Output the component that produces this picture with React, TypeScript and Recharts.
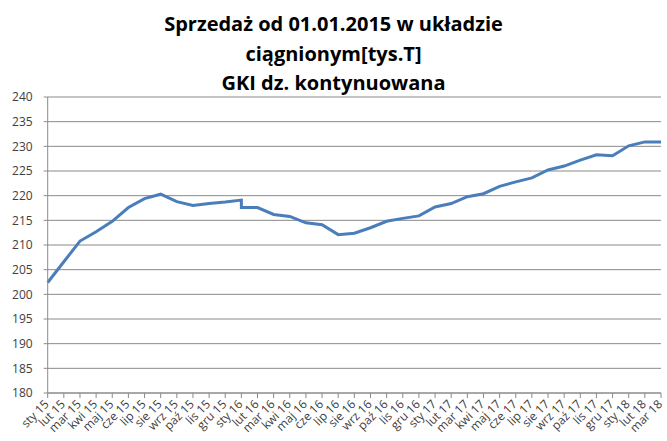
import React from 'react';
import { LineChart, Line, XAxis, YAxis, CartesianGrid } from 'recharts';

const months = [
  'sty 15', 'lut 15', 'mar 15', 'kwi 15', 'maj 15', 'cze 15', 'lip 15', 'sie 15', 'wrz 15', 'paź 15', 'lis 15', 'gru 15',
  'sty 16', 'lut 16', 'mar 16', 'kwi 16', 'maj 16', 'cze 16', 'lip 16', 'sie 16', 'wrz 16', 'paź 16', 'lis 16', 'gru 16',
  'sty 17', 'lut 17', 'mar 17', 'kwi 17', 'maj 17', 'cze 17', 'lip 17', 'sie 17', 'wrz 17', 'paź 17', 'lis 17', 'gru 17',
  'sty 18', 'lut 18', 'mar 18',
];

// Month of each plotted point (sty 16 carries two readings: the step down)
const pointMonths = [
  'sty 15', 'lut 15', 'mar 15', 'kwi 15', 'maj 15', 'cze 15', 'lip 15', 'sie 15', 'wrz 15', 'paź 15', 'lis 15', 'gru 15',
  'sty 16', 'sty 16', 'lut 16', 'mar 16', 'kwi 16', 'maj 16', 'cze 16', 'lip 16', 'sie 16', 'wrz 16', 'paź 16', 'lis 16', 'gru 16',
  'sty 17', 'lut 17', 'mar 17', 'kwi 17', 'maj 17', 'cze 17', 'lip 17', 'sie 17', 'wrz 17', 'paź 17', 'lis 17', 'gru 17',
  'sty 18', 'lut 18', 'mar 18',
];

const pointValues = [
  202.4, 206.6, 210.8, 212.7, 214.8, 217.6, 219.4, 220.3, 218.8, 218.0, 218.4, 218.7,
  219.1, 217.6, 217.6, 216.2, 215.8, 214.5, 214.1, 212.1, 212.4, 213.5, 214.8, 215.4, 215.9,
  217.7, 218.4, 219.8, 220.4, 221.9, 222.8, 223.6, 225.2, 226.0, 227.2, 228.3, 228.1,
  230.1, 230.9, 230.9,
];

const yTicks = [180, 185, 190, 195, 200, 205, 210, 215, 220, 225, 230, 235, 240];

const titleLines = ['Sprzedaż od 01.01.2015 w układzie', 'ciągnionym[tys.T]', 'GKI dz. kontynuowana'];

const data = pointMonths.map((m, k) => ({ x: months.indexOf(m), v: pointValues[k] }));
const xTicks = months.map((_, i) => i);

const FONT = '"Open Sans", "Liberation Sans", sans-serif';
const GRID = '#8a8a8a';
const LABEL = '#404040';

const XTick = (props: any) => {
  const { x, y, payload } = props;
  return (
    <g transform={`translate(${x + 2},${y + 5})`}>
      <text x={0} y={0} textAnchor="end" transform="rotate(-45)" fontSize={12} fontFamily={FONT} fill={LABEL}>
        {months[payload.value]}
      </text>
    </g>
  );
};

export default function App() {
  return (
    <div style={{ position: 'absolute', left: 0, top: 0, width: 667, height: 441, background: '#fff' }}>
      <svg width={667} height={100} style={{ position: 'absolute', left: 0, top: 0 }}>
        {titleLines.map((t, i) => (
          <text key={i} x={333.5} y={31 + i * 29.5} textAnchor="middle" fontFamily={FONT} fontWeight="bold" fontSize={20} fill="#000">
            {t}
          </text>
        ))}
      </svg>
      <div style={{ position: 'absolute', left: 0, top: 0 }}>
        <LineChart width={667} height={441} data={data} margin={{ top: 97, right: 6, bottom: 8, left: 0 }}>
          <CartesianGrid horizontal={true} vertical={false} stroke={GRID} strokeWidth={1} />
          <XAxis
            dataKey="x"
            type="number"
            domain={[0, 38]}
            ticks={xTicks}
            interval={0}
            stroke={GRID}
            tickSize={5}
            tick={<XTick />}
            height={40}
            allowDecimals={false}
          />
          <YAxis
            domain={[180, 240]}
            ticks={yTicks}
            interval={0}
            width={47.7}
            stroke={GRID}
            tickSize={4}
            tickMargin={11}
            tick={{ fontSize: 12, fontFamily: FONT, fill: LABEL }}
          />
          <Line type="linear" dataKey="v" stroke="#4a7ebb" strokeWidth={3} dot={false} isAnimationActive={false} />
        </LineChart>
      </div>
    </div>
  );
}
